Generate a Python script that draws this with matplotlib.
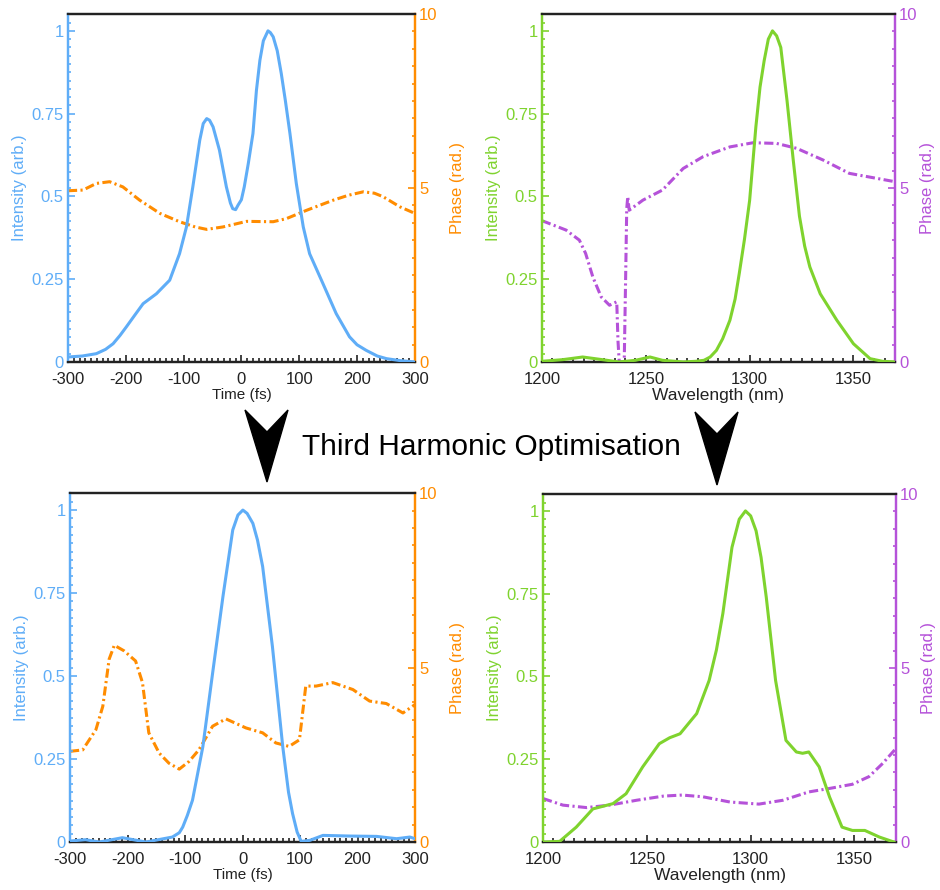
import numpy as np
import matplotlib
matplotlib.use("Agg")
import matplotlib.pyplot as plt
from matplotlib.patches import Polygon
from matplotlib.ticker import MultipleLocator

plt.rcParams["font.family"] = ["Liberation Sans", "DejaVu Sans"]

BLUE = "#5fadf7"
ORANGE = "#ff8c00"
GREEN = "#7fd32e"
PURPLE = "#b552d9"
DARK = "#222222"

# ---- top-left: temporal profile before optimisation ----
t_int_before = [-300, -275, -251, -235, -222, -210, -199, -185, -170, -147, -124, -107, -95, -84,
                -72, -66, -60, -55, -49, -38, -26, -19, -15, -10, -6, 0, 5, 12, 20, 26, 32, 38,
                46, 50, 55, 62, 69, 76, 84, 95, 107, 118, 141, 164, 187, 200, 216, 235, 251,
                275, 300]
int_before = [0.015, 0.018, 0.025, 0.038, 0.055, 0.08, 0.106, 0.14, 0.176, 0.206, 0.247, 0.327,
              0.408, 0.529, 0.670, 0.72, 0.735, 0.73, 0.71, 0.64, 0.529, 0.48, 0.463, 0.46,
              0.473, 0.49, 0.529, 0.6, 0.690, 0.82, 0.911, 0.97, 1.0, 0.995, 0.982, 0.94,
              0.871, 0.79, 0.690, 0.539, 0.408, 0.327, 0.237, 0.146, 0.076, 0.052, 0.035, 0.018,
              0.01, 0.004, 0.0]
t_ph_before = [-300, -274, -251, -228, -205, -176, -141, -107, -80, -60, -32, 9, 55, 78, 113, 159,
               185, 211, 230, 245, 274, 300]
ph_before = [4.92, 4.94, 5.13, 5.18, 5.03, 4.65, 4.27, 4.03, 3.88, 3.81, 3.88, 4.04, 4.03, 4.12,
             4.36, 4.65, 4.79, 4.89, 4.85, 4.75, 4.46, 4.27]

# ---- top-right: spectrum before optimisation ----
wl_int_before = [1200, 1210, 1219.6, 1229, 1237, 1245, 1252, 1258, 1268, 1274, 1278, 1281, 1284,
                 1287, 1290.5, 1293, 1295, 1297.5, 1300, 1303, 1305, 1307, 1309, 1311, 1313, 1315,
                 1318, 1321, 1324, 1326.5, 1329, 1334, 1342, 1350, 1358, 1364, 1370]
spec_before = [0.002, 0.007, 0.015, 0.007, 0.0, 0.005, 0.015, 0.005, 0.0, 0.002, 0.005, 0.015,
               0.035, 0.07, 0.126, 0.19, 0.267, 0.37, 0.488, 0.71, 0.83, 0.91, 0.975, 1.0, 0.985,
               0.95, 0.79, 0.61, 0.44, 0.35, 0.287, 0.206, 0.126, 0.055, 0.01, 0.002, 0.0]
wl_ph_before = [1200, 1211.6, 1218, 1221, 1224.5, 1228.5, 1232.5, 1236, 1236.6, 1237.2, 1239.6,
                1240.3, 1240.8, 1241.3, 1242, 1248.6, 1258, 1268, 1277.6, 1290.5, 1301.7, 1313,
                1322.6, 1335.5, 1348, 1370]
sph_before = [4.06, 3.79, 3.50, 3.12, 2.44, 1.87, 1.63, 1.73, 0.6, 0.0, 0.0, 2.5, 4.4, 4.75,
              4.36, 4.65, 4.94, 5.56, 5.90, 6.18, 6.30, 6.28, 6.14, 5.80, 5.42, 5.18]

# ---- bottom-left: temporal profile after optimisation ----
t_int_after = [-300, -273, -249, -209, -168, -122, -110, -104, -96, -87, -69, -52, -34, -17, -8,
               0.6, 8, 18, 26, 35, 52, 70, 80, 87, 95, 102, 117, 140, 187, 233, 268, 291, 300]
int_after = [0.003, 0.007, 0.0, 0.013, 0.0, 0.015, 0.028, 0.045, 0.08, 0.126, 0.287, 0.509, 0.74,
             0.94, 0.985, 1.0, 0.99, 0.96, 0.91, 0.83, 0.589, 0.287, 0.15, 0.086, 0.03, 0.002,
             0.005, 0.02, 0.018, 0.017, 0.01, 0.015, 0.01]
t_ph_after = [-300, -278, -255, -243, -232, -223, -206, -186, -174, -163, -145, -128, -110, -93,
              -76, -52, -29, 6, 35, 58, 81, 99, 110, 128, 157, 192, 221, 250, 279, 300]
ph_after = [2.60, 2.64, 3.22, 3.89, 5.24, 5.64, 5.48, 5.19, 4.57, 3.13, 2.55, 2.26, 2.09, 2.31,
            2.64, 3.32, 3.53, 3.27, 3.13, 2.84, 2.74, 2.93, 4.47, 4.47, 4.57, 4.37, 4.04, 3.97,
            3.70, 3.94]

# ---- bottom-right: spectrum after optimisation ----
wl_int_after = [1200, 1208, 1216, 1224, 1233.7, 1240, 1248, 1256, 1261, 1266, 1274, 1280, 1283.5,
                1286.6, 1291, 1294.5, 1297.5, 1300, 1302.6, 1305, 1307.5, 1312, 1317, 1322, 1325,
                1328, 1333, 1338, 1344, 1349, 1355, 1362, 1369]
spec_after = [0.0, 0.002, 0.045, 0.10, 0.116, 0.146, 0.227, 0.297, 0.315, 0.327, 0.388, 0.488,
              0.58, 0.69, 0.89, 0.975, 1.0, 0.985, 0.94, 0.86, 0.74, 0.488, 0.307, 0.272, 0.268,
              0.272, 0.227, 0.136, 0.045, 0.035, 0.035, 0.015, 0.0]
wl_ph_after = [1200, 1209.6, 1220.9, 1232, 1245, 1258, 1267, 1277, 1290, 1304, 1315.5, 1328,
               1338, 1349, 1357, 1363.6, 1370]
sph_after = [1.25, 1.06, 0.99, 1.06, 1.20, 1.32, 1.35, 1.30, 1.15, 1.09, 1.20, 1.44, 1.54, 1.66,
             1.88, 2.26, 2.69]

int_ticks = [0, 0.25, 0.5, 0.75, 1]
int_labels = ["0", "0.25", "0.5", "0.75", "1"]
ph_ticks = [0, 5, 10]
t_ticks = [-300, -200, -100, 0, 100, 200, 300]
wl_ticks = [1200, 1250, 1300, 1350]

DASH = (0, (3.0, 1.1, 0.7, 1.1))


def make_panel(fig, rect, x1, y1, x2, y2, c1, c2, xlim, xticks, xminor, xlabel, xlabel_size,
               phase_pad):
    ax = fig.add_axes(rect)
    ax2 = ax.twinx()
    ax.plot(x1, y1, color=c1, lw=2.2, zorder=3, solid_joinstyle="round")
    ax2.plot(x2, y2, color=c2, lw=2.2, linestyle=DASH, dash_joinstyle="round")
    ax.set_zorder(ax2.get_zorder() + 1)
    ax.patch.set_visible(False)

    ax.set_xlim(*xlim)
    ax.set_ylim(0, 1.051)
    ax2.set_ylim(0, 10)
    ax.set_xticks(xticks)
    ax.set_xticklabels([str(v) for v in xticks])
    ax.xaxis.set_minor_locator(MultipleLocator(xminor))
    ax.set_yticks(int_ticks)
    ax.set_yticklabels(int_labels)
    ax.yaxis.set_minor_locator(MultipleLocator(0.025))
    ax2.set_yticks(ph_ticks)
    ax2.yaxis.set_minor_locator(MultipleLocator(0.5))

    ax.tick_params(axis="x", which="both", direction="in", colors=DARK, labelsize=12,
                   pad=7, width=1.2)
    ax.tick_params(axis="x", which="major", length=5)
    ax.tick_params(axis="x", which="minor", length=3)
    ax.tick_params(axis="y", which="both", direction="in", colors=c1, labelsize=12, width=1.2,
                   pad=3)
    ax.tick_params(axis="y", which="major", length=5)
    ax.tick_params(axis="y", which="minor", length=2.5)
    ax2.tick_params(axis="y", which="both", direction="in", colors=c2, labelsize=12, width=1.2,
                    pad=3)
    ax2.tick_params(axis="y", which="major", length=5)
    ax2.tick_params(axis="y", which="minor", length=2.5)

    for a in (ax, ax2):
        a.spines["top"].set_color(DARK)
        a.spines["bottom"].set_color(DARK)
        a.spines["left"].set_color(c1)
        a.spines["right"].set_color(c2)
        for s in a.spines.values():
            s.set_linewidth(1.6)

    ax.set_xlabel(xlabel, fontsize=xlabel_size, color=DARK, labelpad=1)
    ax.set_ylabel("Intensity (arb.)", fontsize=12, color=c1, labelpad=3)
    ax2.set_ylabel("Phase (rad.)", fontsize=12, color=c2, labelpad=phase_pad)
    return ax


fig = plt.figure(figsize=(9.4, 8.9), dpi=100)

make_panel(fig, [0.0723, 0.5933, 0.369, 0.391], t_int_before, int_before, t_ph_before, ph_before,
           BLUE, ORANGE, (-300, 300), t_ticks, 10, "Time (fs)", 11, 9)
make_panel(fig, [0.5766, 0.5933, 0.3755, 0.391], wl_int_before, spec_before, wl_ph_before,
           sph_before, GREEN, PURPLE, (1200, 1370), wl_ticks, 5, "Wavelength (nm)", 12.5, 2)
make_panel(fig, [0.0745, 0.0539, 0.367, 0.392], t_int_after, int_after, t_ph_after, ph_after,
           BLUE, ORANGE, (-300, 300), t_ticks, 10, "Time (fs)", 11, 9)
make_panel(fig, [0.5777, 0.0539, 0.3755, 0.391], wl_int_after, spec_after, wl_ph_after,
           sph_after, GREEN, PURPLE, (1200, 1370), wl_ticks, 5, "Wavelength (nm)", 12.5, 2)

fig.text(0.523, 0.498, "Third Harmonic Optimisation", ha="center", va="center", fontsize=21.5,
         color="black")

# big down arrows between the rows (pixel outlines -> figure fraction)
W, H = 940.0, 890.0
for pts in ([(245, 410), (267, 432), (288, 410), (267, 482)],
            [(695, 412), (717, 434), (738, 412), (717, 485)]):
    xy = [(px / W, 1 - py / H) for px, py in pts]
    fig.patches.append(Polygon(xy, closed=True, facecolor="black", edgecolor="black",
                               transform=fig.transFigure, figure=fig))

fig.savefig("out.png", dpi=100)
